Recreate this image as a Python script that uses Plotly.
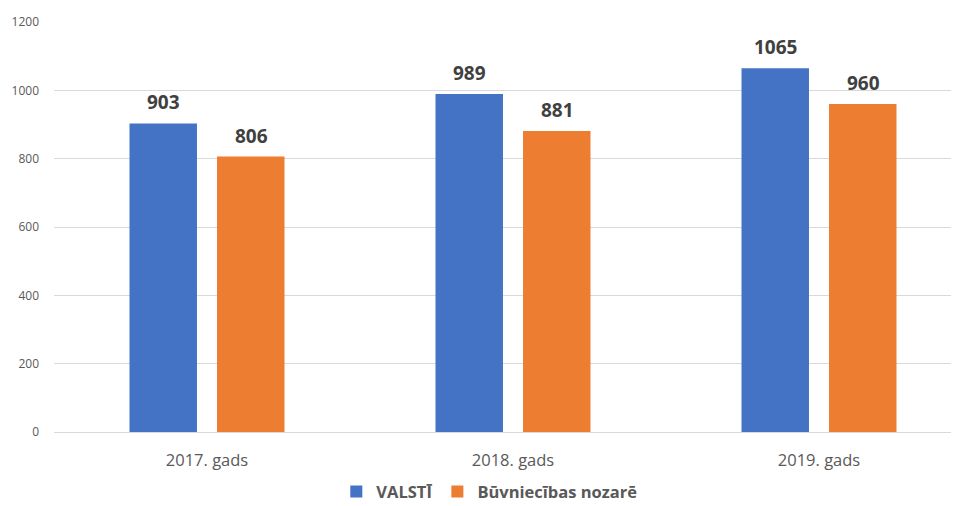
import plotly.graph_objects as go

categories = ["2017. gads", "2018. gads", "2019. gads"]
valsti = [903, 989, 1065]
buvniecibas = [806, 881, 960]
series_names = ["VALSTĪ", "Būvniecības nozarē"]
colors = ["#4472C4", "#ED7D31"]
y_ticks = [0, 200, 400, 600, 800, 1000, 1200]

fig = go.Figure()
label_shift = [-44, 44]
annotations = []
for i, (name, vals, col) in enumerate(zip(series_names, [valsti, buvniecibas], colors)):
    fig.add_trace(go.Bar(
        x=categories, y=vals, name=name, marker=dict(color=col, line=dict(width=0)),
    ))
    for c, v in zip(categories, vals):
        annotations.append(dict(
            x=c, y=v, xref="x", yref="y", text=str(v), showarrow=False,
            xshift=label_shift[i], yshift=21, yanchor="middle",
            font=dict(family="Open Sans", size=19, color="#404040", weight="bold"),
        ))

fig.update_layout(
    width=951, height=498,
    margin=dict(l=46, r=0, t=14, b=74, autoexpand=False),
    paper_bgcolor="white", plot_bgcolor="white",
    barmode="group", bargap=0.428, bargroupgap=0.229,
    font=dict(family="Open Sans", color="#595959"),
    annotations=annotations,
    xaxis=dict(
        type="category", range=[-0.5, 2.4575], showgrid=False, showline=False,
        ticks="", tickfont=dict(size=16.5, color="#595959"), ticklabelstandoff=16,
    ),
    yaxis=dict(
        range=[0, 1200], tickvals=y_ticks, showgrid=True, gridcolor="#D9D9D9",
        gridwidth=1, zeroline=True, zerolinecolor="#D9D9D9", zerolinewidth=1,
        tickfont=dict(size=12, color="#595959"), ticks="", ticklabelstandoff=14,
    ),
    legend=dict(
        orientation="h", x=0.481, xanchor="center", y=-0.146, yanchor="middle",
        font=dict(size=16.5, color="#595959", weight="bold"),
        itemwidth=30, tracegroupgap=0,
    ),
    showlegend=True,
)
fig.write_html("out.html")
